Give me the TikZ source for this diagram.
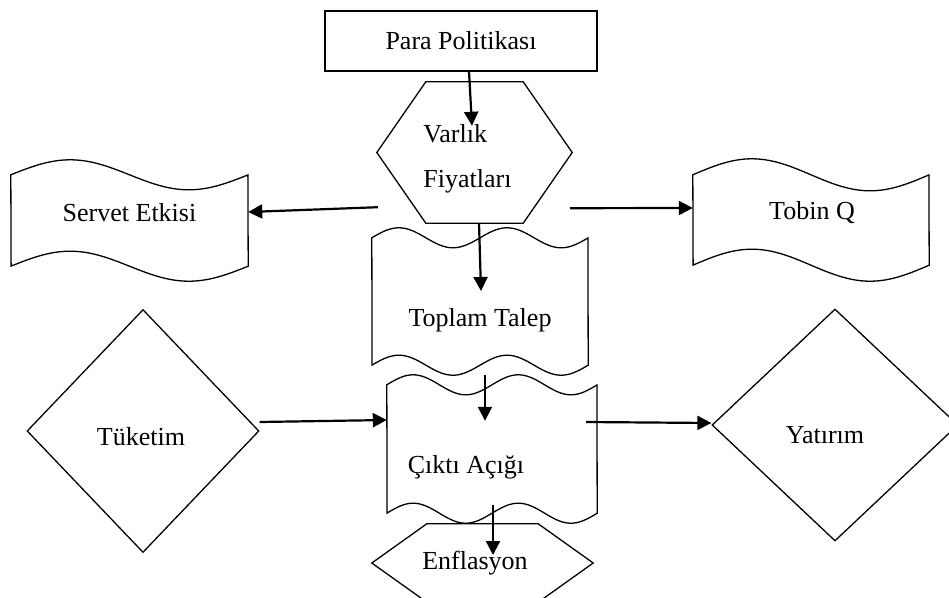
\documentclass[tikz,border=0pt]{standalone}
\usepackage{fontspec}
\setmainfont{Liberation Serif}
\usetikzlibrary{arrows.meta,shapes.geometric,calc}

\tikzset{
  outline/.style={draw=black, line width=1.3pt},
  frame/.style={rectangle, draw=none, inner sep=0pt},
  flow/.style={line width=2.2pt, -{Triangle[length=14pt,width=14pt]}},
}

% hexagon drawn on the border of a rectangular frame node
\newcommand\hexoutline[2]{%
  \draw[outline] ([xshift=#2]#1.north west) -- ([xshift=-#2]#1.north east)
    -- (#1.east) -- ([xshift=-#2]#1.south east) -- ([xshift=#2]#1.south west)
    -- (#1.west) -- cycle;}

% punched-tape outline: wavy top and bottom edges on a frame node
\newcommand\waveoutline[3]{%
  \draw[outline] let \p1=(#1.north west), \p2=(#1.south east) in
    plot[domain=0:1, samples=120, variable=\t]
      ({\x1+\t*(\x2-\x1)}, {\y1+#2pt*sin(360*#3*\t)})
    -- plot[domain=1:0, samples=120, variable=\t]
      ({\x1+\t*(\x2-\x1)}, {\y2+#2pt*sin(360*#3*\t)})
    -- cycle;}

\begin{document}
\begin{tikzpicture}[x=1pt, y=-1pt, font=\fontsize{26}{31}\selectfont]
\fill[white] (0,0) rectangle (949,597);
\useasboundingbox (0,0) rectangle (949,597);
\clip (0,0) rectangle (949,597);

% top of the chain
\node[rectangle, outline, inner sep=0pt, minimum width=272pt, minimum height=60pt]
  (para) at (461,41) {Para Politikası};

\node[frame, minimum width=195pt, minimum height=141pt,
  label={[align=left, font=\fontsize{26}{45}\selectfont, xshift=-7pt, yshift=-6pt]center:Varlık\\Fiyatları}]
  (varlik) at (474.5,152.5) {};
\hexoutline{varlik}{49pt}

% side effects of asset prices
\node[frame, minimum width=237pt, minimum height=91pt,
  label={[yshift=7.5pt]center:Servet Etkisi}] (servet) at (129.5,220.5) {};
\waveoutline{servet}{15}{1}

\node[frame, minimum width=236pt, minimum height=90pt,
  label={[xshift=1pt, yshift=7pt]center:Tobin Q}] (tobin) at (811,220) {};
\waveoutline{tobin}{16}{1}

% demand and output
\node[frame, minimum width=216pt, minimum height=127pt,
  label={[yshift=-18.5pt]center:Toplam Talep}] (toplam) at (480,301.5) {};
\waveoutline{toplam}{10}{2}

\node[frame, minimum width=210pt, minimum height=128pt,
  label={[xshift=-26pt, yshift=-18pt]center:Çıktı Açığı}] (cikti) at (492,449) {};
\waveoutline{cikti}{10}{2}

\node[frame, minimum width=221pt, minimum height=78pt,
  label={[xshift=-7.5pt]center:Enflasyon}] (enf) at (482.5,563) {};
\hexoutline{enf}{55pt}

\node[diamond, outline, inner sep=0pt, minimum width=232pt, minimum height=243pt,
  label={[xshift=-2pt, yshift=-6pt]center:Tüketim}] (tuketim) at (143,431) {};

\node[diamond, outline, inner sep=0pt, minimum width=246pt, minimum height=232pt,
  label={[xshift=-10pt, yshift=-10pt]center:Yatırım}] (yatirim) at (835,425) {};

% connectors
\draw[flow] ([xshift=8pt]para.south) -- ([xshift=-2.5pt, yshift=-44pt]varlik.north);
\draw[flow] ([xshift=1pt, yshift=16pt]varlik.south west) -- ([yshift=8.5pt]servet.east);
\draw[flow] ([xshift=-2pt, yshift=15pt]varlik.south east) -- ([yshift=12pt]tobin.west);
\draw[flow] ([xshift=4.5pt]varlik.south) -- ([xshift=1pt, yshift=10.5pt]toplam.center);
\draw[flow] ([xshift=5pt, yshift=-10pt]toplam.south) -- ([xshift=-7pt, yshift=-36pt]cikti.north);
\draw[flow] ([yshift=9pt]tuketim.east) -- ([yshift=29pt]cikti.west);
\draw[flow] ([xshift=-11pt, yshift=27pt]cikti.east) -- ([yshift=2pt]yatirim.west);
\draw[flow] ([xshift=1pt, yshift=8pt]cikti.south) -- ([xshift=10.5pt, yshift=8pt]enf.center);
\end{tikzpicture}
\end{document}
